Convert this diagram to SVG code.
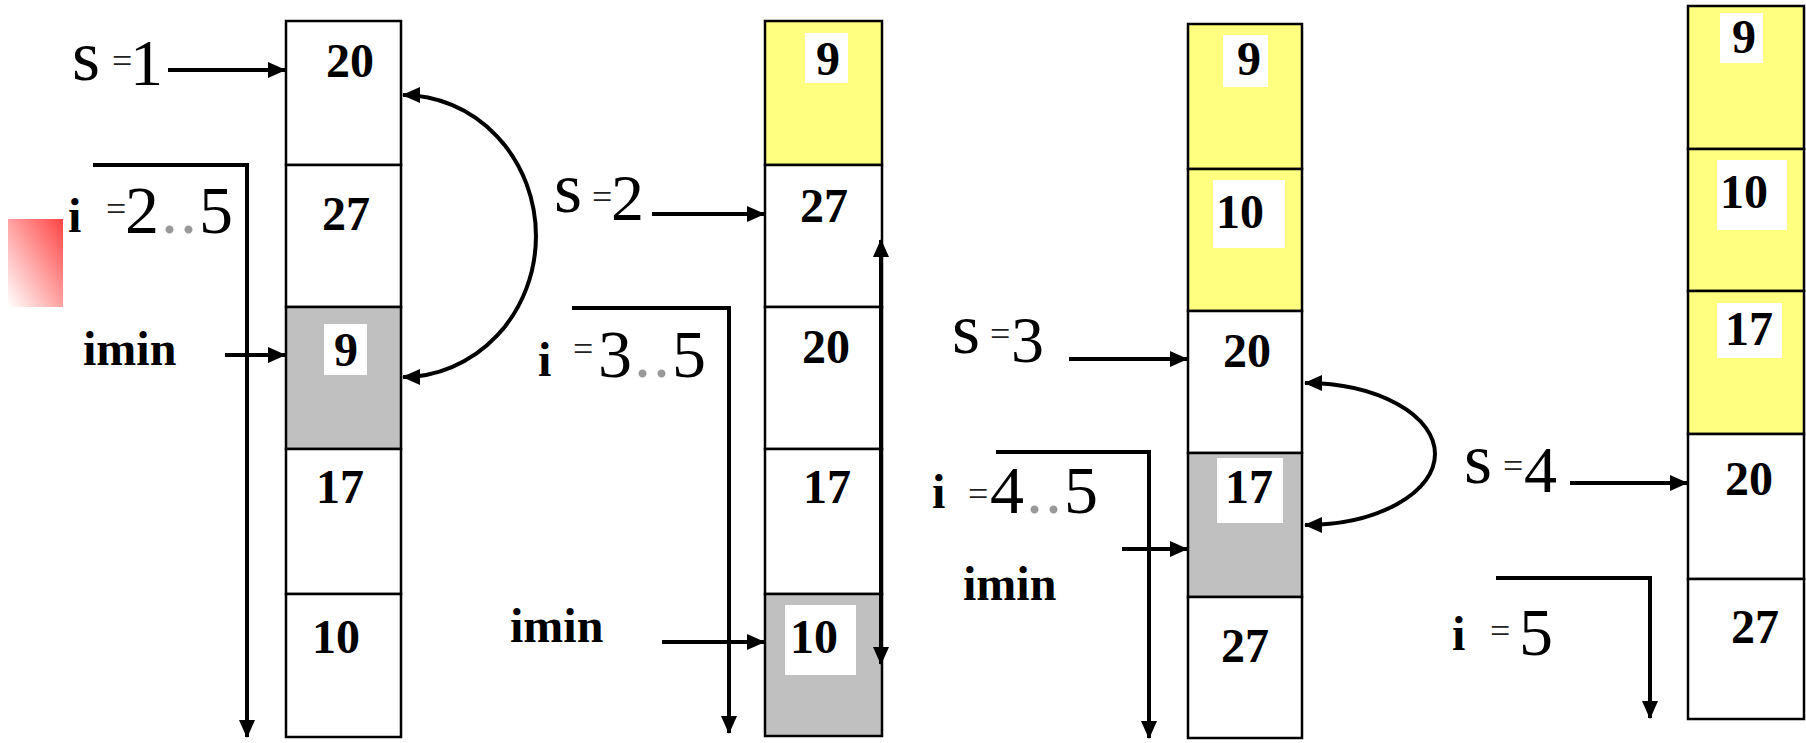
<svg xmlns="http://www.w3.org/2000/svg" width="1806" height="743" viewBox="0 0 1806 743">
<defs>
<linearGradient id="redg" x1="1" y1="0" x2="0" y2="1">
<stop offset="0" stop-color="#ff4444"/>
<stop offset="1" stop-color="#ffffff"/>
</linearGradient>
<marker id="ah" viewBox="0 0 18 16" refX="17" refY="8" markerWidth="18" markerHeight="16" markerUnits="userSpaceOnUse" orient="auto-start-reverse">
<path d="M0,0 L18,8 L0,16 Z" fill="#000"/>
</marker>
<style>
.cell{stroke:#000;stroke-width:2.5}
.w{fill:#fff}
.y{fill:#ffff80}
.g{fill:#c0c0c0}
.bg{fill:#fff}
.num{font-weight:bold;font-size:48px;text-anchor:middle;fill:#000}
.lbl{fill:#000}
.sv{font-size:72px}
.eq{font-size:36px;fill:#222}
.big{font-size:66px}
.dig{font-size:68px;letter-spacing:2px}
.bi{font-size:48px;font-weight:bold}
.dot{fill:#999}
.conn{stroke:#000;stroke-width:4;fill:none}
</style>
</defs>
<rect width="1806" height="743" fill="#fff"/>
<rect x="8" y="219" width="55" height="88" fill="url(#redg)"/>

<g font-family="Liberation Serif, Times New Roman, serif">
<!-- Column 1 -->
<g id="c1r1"><rect class="cell w" x="286" y="21" width="115" height="144"/><text class="num" x="350" y="77">20</text></g>
<g id="c1r2"><rect class="cell w" x="286" y="165" width="115" height="142"/><text class="num" x="346" y="230">27</text></g>
<g id="c1r3"><rect class="cell g" x="286" y="307" width="115" height="142"/><rect class="bg" x="324" y="324" width="43" height="51"/><text class="num" x="346" y="366">9</text></g>
<g id="c1r4"><rect class="cell w" x="286" y="449" width="115" height="145"/><text class="num" x="340" y="503">17</text></g>
<g id="c1r5"><rect class="cell w" x="286" y="594" width="115" height="143"/><text class="num" x="336" y="653">10</text></g>

<!-- Column 2 -->
<g id="c2r1"><rect class="cell y" x="765" y="21" width="117" height="144"/><rect class="bg" x="805" y="33" width="43" height="50"/><text class="num" x="828" y="75">9</text></g>
<g id="c2r2"><rect class="cell w" x="765" y="165" width="117" height="142"/><text class="num" x="824" y="222">27</text></g>
<g id="c2r3"><rect class="cell w" x="765" y="307" width="117" height="142"/><text class="num" x="826" y="363">20</text></g>
<g id="c2r4"><rect class="cell w" x="765" y="449" width="117" height="145"/><text class="num" x="827" y="503">17</text></g>
<g id="c2r5"><rect class="cell g" x="765" y="594" width="117" height="142"/><rect class="bg" x="785" y="605" width="71" height="70"/><text class="num" x="814" y="653">10</text></g>

<!-- Column 3 -->
<g id="c3r1"><rect class="cell y" x="1188" y="24" width="114" height="145"/><rect class="bg" x="1223" y="35" width="45" height="52"/><text class="num" x="1249" y="75">9</text></g>
<g id="c3r2"><rect class="cell y" x="1188" y="169" width="114" height="142"/><rect class="bg" x="1213" y="180" width="72" height="68"/><text class="num" x="1240" y="228">10</text></g>
<g id="c3r3"><rect class="cell w" x="1188" y="311" width="114" height="142"/><text class="num" x="1247" y="367">20</text></g>
<g id="c3r4"><rect class="cell g" x="1188" y="453" width="114" height="144"/><rect class="bg" x="1217" y="458" width="66" height="65"/><text class="num" x="1249" y="503">17</text></g>
<g id="c3r5"><rect class="cell w" x="1188" y="597" width="114" height="141"/><text class="num" x="1245" y="662">27</text></g>

<!-- Column 4 -->
<g id="c4r1"><rect class="cell y" x="1688" y="6" width="116" height="143"/><rect class="bg" x="1720" y="13" width="43" height="50"/><text class="num" x="1744" y="53">9</text></g>
<g id="c4r2"><rect class="cell y" x="1688" y="149" width="116" height="142"/><rect class="bg" x="1717" y="160" width="70" height="70"/><text class="num" x="1744" y="208">10</text></g>
<g id="c4r3"><rect class="cell y" x="1688" y="291" width="116" height="143"/><rect class="bg" x="1717" y="303" width="65" height="55"/><text class="num" x="1749" y="345">17</text></g>
<g id="c4r4"><rect class="cell w" x="1688" y="434" width="116" height="145"/><text class="num" x="1749" y="495">20</text></g>
<g id="c4r5"><rect class="cell w" x="1688" y="579" width="116" height="140"/><text class="num" x="1755" y="643">27</text></g>

<!-- Labels -->
<g id="lbl-s1"><text class="lbl"><tspan class="sv" x="72" y="80">s</tspan><tspan class="eq" x="103" y="73"> =</tspan><tspan class="big" x="130" y="85">1</tspan></text></g>
<g id="lbl-i1"><text class="lbl"><tspan class="bi" x="68" y="232">i</tspan><tspan class="eq" x="97" y="221"> =</tspan><tspan class="dig" x="125" y="233">2<tspan class="dot">..</tspan>5</tspan></text></g>
<g id="lbl-imin1"><text class="lbl bi" x="83" y="365">imin</text></g>

<g id="lbl-s2"><text class="lbl"><tspan class="sv" x="554" y="212">s</tspan><tspan class="eq" x="583" y="209"> =</tspan><tspan class="big" x="611" y="220">2</tspan></text></g>
<g id="lbl-i2"><text class="lbl"><tspan class="bi" x="538" y="376">i</tspan><tspan class="eq" x="564" y="361"> =</tspan><tspan class="dig" x="598" y="377">3<tspan class="dot">..</tspan>5</tspan></text></g>
<g id="lbl-imin2"><text class="lbl bi" x="510" y="642">imin</text></g>

<g id="lbl-s3"><text class="lbl"><tspan class="sv" x="952" y="353">s</tspan><tspan class="eq" x="981" y="346"> =</tspan><tspan class="big" x="1011" y="362">3</tspan></text></g>
<g id="lbl-i3"><text class="lbl"><tspan class="bi" x="932" y="508">i</tspan><tspan class="eq" x="959" y="506"> =</tspan><tspan class="dig" x="990" y="513">4<tspan class="dot">..</tspan>5</tspan></text></g>
<g id="lbl-imin3"><text class="lbl bi" x="963" y="600">imin</text></g>

<g id="lbl-s4"><text class="lbl"><tspan class="sv" x="1464" y="483">s</tspan><tspan class="eq" x="1494" y="478"> =</tspan><tspan class="big" x="1524" y="492">4</tspan></text></g>
<g id="lbl-i4"><text class="lbl"><tspan class="bi" x="1452" y="650">i</tspan><tspan class="eq" x="1481" y="643"> =</tspan><tspan class="dig" x="1519" y="655">5</tspan></text></g>
</g>

<!-- Connectors -->
<g id="connectors" class="conn">
<path d="M168,70 L285,70" marker-end="url(#ah)"/>
<path d="M93,165 L247,165 L247,737" marker-end="url(#ah)"/>
<path d="M225,355 L285,355" marker-end="url(#ah)"/>
<path d="M403,95 A133,141 0 0 1 403,377" marker-start="url(#ah)" marker-end="url(#ah)"/>

<path d="M652,214 L764,214" marker-end="url(#ah)"/>
<path d="M572,308 L729,308 L729,733" marker-end="url(#ah)"/>
<path d="M662,642 L764,642" marker-end="url(#ah)"/>
<path d="M881,240 L881,664" marker-start="url(#ah)" marker-end="url(#ah)"/>

<path d="M1069,359 L1187,359" marker-end="url(#ah)"/>
<path d="M996,452 L1149,452 L1149,738" marker-end="url(#ah)"/>
<path d="M1122,549 L1187,549" marker-end="url(#ah)"/>
<path d="M1305,383 A130,71 0 0 1 1305,525" marker-start="url(#ah)" marker-end="url(#ah)"/>

<path d="M1570,483 L1687,483" marker-end="url(#ah)"/>
<path d="M1496,578 L1650,578 L1650,718" marker-end="url(#ah)"/>
</g>
</svg>
